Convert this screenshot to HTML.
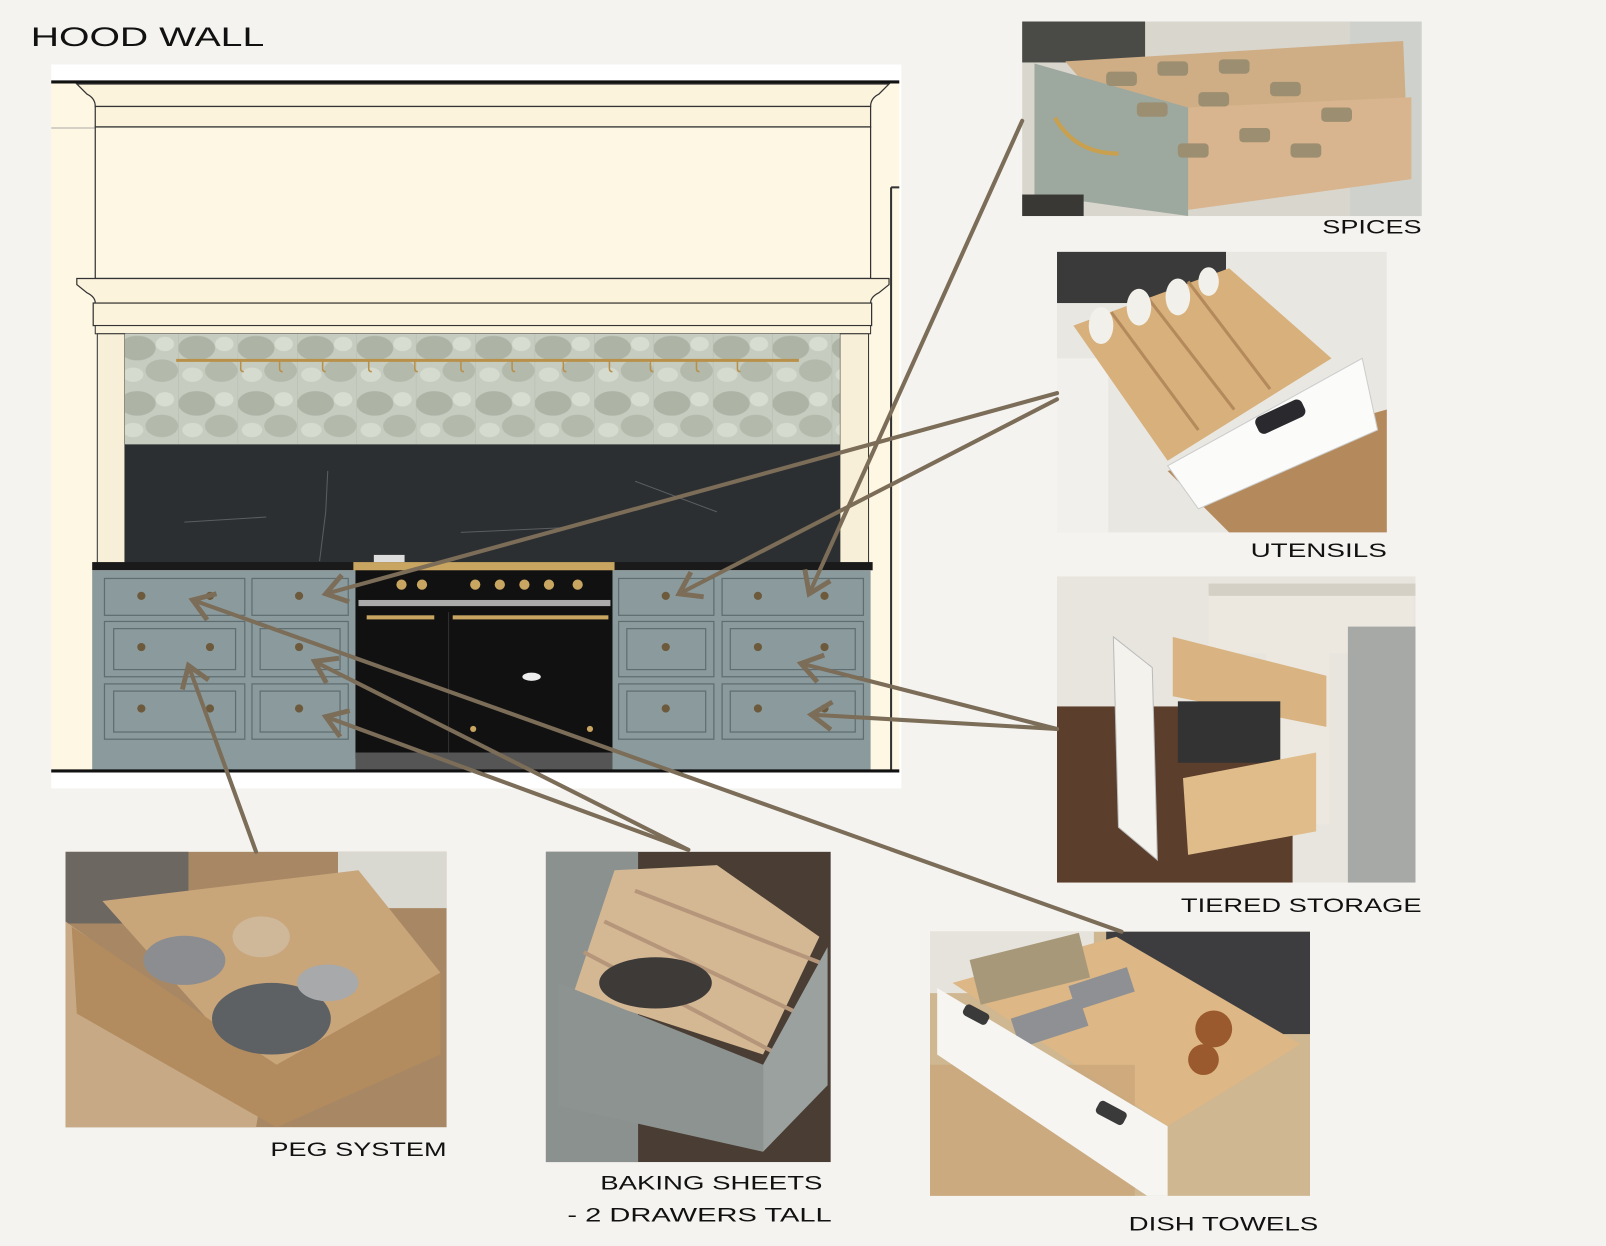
<!DOCTYPE html>
<html><head><meta charset="utf-8"><style>
html,body{margin:0;padding:0;background:#f4f3ef;}
svg{display:block}
text{font-family:"Liberation Sans",sans-serif;fill:#111}
</style></head><body>
<svg width="1606" height="1246" viewBox="0 0 1568 1217" preserveAspectRatio="none" xmlns="http://www.w3.org/2000/svg">
<defs>
<marker id="ah" markerWidth="8" markerHeight="8" refX="6" refY="4" orient="auto" markerUnits="strokeWidth">
<polyline points="1,0.6 6,4 1,7.4" fill="none" stroke="#7b6d58" stroke-width="1.2"/>
</marker>
<pattern id="tile" width="58" height="54" patternUnits="userSpaceOnUse">
<rect width="58" height="54" fill="#c6ccc0"/>
<ellipse cx="18" cy="16" rx="18" ry="12" fill="#adb4a6"/>
<ellipse cx="42" cy="38" rx="16" ry="11" fill="#b3baac"/>
<ellipse cx="45" cy="12" rx="9" ry="7" fill="#d8ddd2"/>
<ellipse cx="14" cy="42" rx="10" ry="7" fill="#d6dbd0"/>
<line x1="0" y1="0" x2="0" y2="54" stroke="#b5bcae" stroke-width="1"/>
</pattern>
</defs>
<rect width="1568" height="1217" fill="#f4f3ef"/>
<text x="30" y="45" font-size="26" textLength="228" lengthAdjust="spacingAndGlyphs">HOOD WALL</text>

<!-- drawing -->
<rect x="50" y="63" width="830" height="707" fill="#ffffff"/>
<rect x="50" y="80" width="828" height="672" fill="#fdf7e3"/>
<line x1="50" y1="80" x2="878" y2="80" stroke="#111" stroke-width="3"/>
<path d="M75 82 H868 L858 92 Q850 96 850 104 H93 Q93 96 85 92 Z" fill="#fbf3dc" stroke="#333" stroke-width="1.2"/>
<rect x="93" y="104" width="757" height="20" fill="#fbf3dc" stroke="#333" stroke-width="1.2"/>
<line x1="50" y1="125" x2="93" y2="125" stroke="#aaa"/>
<rect x="93" y="124" width="757" height="148" fill="#fdf7e3" stroke="#333" stroke-width="1.2"/>
<line x1="870" y1="183" x2="870" y2="752" stroke="#333" stroke-width="2"/>
<line x1="870" y1="183" x2="878" y2="183" stroke="#333" stroke-width="2"/>
<path d="M75 272 H868 V278 L858 286 Q850 290 850 296 H93 Q93 290 85 286 L75 278 Z" fill="#fbf3dc" stroke="#333" stroke-width="1.2"/>
<rect x="91" y="296" width="760" height="22" fill="#fbf3dc" stroke="#333" stroke-width="1.2"/>
<rect x="93" y="318" width="757" height="8" fill="#fbf3dc" stroke="#333" stroke-width="1"/>
<rect x="95" y="326" width="27" height="224" fill="#f7efd8" stroke="#333" stroke-width="1"/>
<rect x="820" y="326" width="28" height="224" fill="#f7efd8" stroke="#333" stroke-width="1"/>
<rect x="122" y="326" width="698" height="108" fill="url(#tile)"/>
<rect x="122" y="434" width="698" height="116" fill="#2c2f31"/>
<path d="M320 460 L318 500 L312 548 M180 510 L260 505 M620 470 L700 500 M450 520 L560 515" stroke="#5a5e60" stroke-width="1" fill="none"/>
<line x1="172" y1="352" x2="780" y2="352" stroke="#b8904a" stroke-width="3"/>
<g fill="none" stroke="#b8904a" stroke-width="1.5">
<path d="M235 352 v8 q0 3 3 3"/><path d="M273 352 v8 q0 3 3 3"/><path d="M315 352 v8 q0 3 3 3"/><path d="M360 352 v8 q0 3 3 3"/><path d="M405 352 v8 q0 3 3 3"/><path d="M450 352 v8 q0 3 3 3"/><path d="M500 352 v8 q0 3 3 3"/><path d="M550 352 v8 q0 3 3 3"/><path d="M595 352 v8 q0 3 3 3"/><path d="M635 352 v8 q0 3 3 3"/><path d="M680 352 v8 q0 3 3 3"/><path d="M720 352 v8 q0 3 3 3"/>
</g>
<rect x="90" y="549" width="762" height="8" fill="#1a1a1a"/>
<!-- cabinets -->
<rect x="90" y="557" width="257" height="195" fill="#8b9b9d"/>
<rect x="598" y="557" width="252" height="195" fill="#8b9b9d"/>
<g fill="none" stroke="#5f6d70" stroke-width="1.2">
<rect x="102" y="565" width="137" height="36"/><rect x="246" y="565" width="94" height="36"/>
<rect x="102" y="607" width="137" height="54"/><rect x="111" y="614" width="119" height="40"/>
<rect x="246" y="607" width="94" height="54"/><rect x="254" y="614" width="78" height="40"/>
<rect x="102" y="668" width="137" height="54"/><rect x="111" y="675" width="119" height="40"/>
<rect x="246" y="668" width="94" height="54"/><rect x="254" y="675" width="78" height="40"/>
<rect x="604" y="565" width="93" height="36"/><rect x="705" y="565" width="138" height="36"/>
<rect x="604" y="607" width="93" height="54"/><rect x="612" y="614" width="77" height="40"/>
<rect x="705" y="607" width="138" height="54"/><rect x="713" y="614" width="122" height="40"/>
<rect x="604" y="668" width="93" height="54"/><rect x="612" y="675" width="77" height="40"/>
<rect x="705" y="668" width="138" height="54"/><rect x="713" y="675" width="122" height="40"/>
</g>
<g fill="#6d5a3c">
<circle cx="138" cy="582" r="4"/><circle cx="205" cy="582" r="4"/><circle cx="292" cy="582" r="4"/>
<circle cx="138" cy="632" r="4"/><circle cx="205" cy="632" r="4"/><circle cx="292" cy="632" r="4"/>
<circle cx="138" cy="692" r="4"/><circle cx="205" cy="692" r="4"/><circle cx="292" cy="692" r="4"/>
<circle cx="650" cy="582" r="4"/><circle cx="740" cy="582" r="4"/><circle cx="805" cy="582" r="4"/>
<circle cx="650" cy="632" r="4"/><circle cx="740" cy="632" r="4"/><circle cx="805" cy="632" r="4"/>
<circle cx="650" cy="692" r="4"/><circle cx="740" cy="692" r="4"/><circle cx="805" cy="692" r="4"/>
</g>
<!-- range -->
<rect x="347" y="551" width="251" height="190" fill="#111"/>
<rect x="345" y="549" width="255" height="8" fill="#c8a560"/>
<rect x="365" y="542" width="30" height="7" fill="#ddd"/>
<rect x="350" y="586" width="246" height="6" fill="#aaa"/>
<g fill="#c8a560"><circle cx="392" cy="571" r="5"/><circle cx="412" cy="571" r="5"/><circle cx="464" cy="571" r="5"/><circle cx="488" cy="571" r="5"/><circle cx="512" cy="571" r="5"/><circle cx="536" cy="571" r="5"/><circle cx="564" cy="571" r="5"/></g>
<rect x="358" y="601" width="66" height="4" fill="#c8a560"/><rect x="442" y="601" width="152" height="4" fill="#c8a560"/>
<line x1="438" y1="598" x2="438" y2="735" stroke="#333"/>
<ellipse cx="519" cy="661" rx="9" ry="4" fill="#eee"/>
<circle cx="462" cy="712" r="3" fill="#c8a560"/><circle cx="576" cy="712" r="3" fill="#c8a560"/>
<rect x="347" y="735" width="251" height="17" fill="#555"/>
<line x1="50" y1="753" x2="878" y2="753" stroke="#111" stroke-width="3"/>

<!-- SPICES photo -->
<rect x="998" y="21" width="390" height="190" fill="#d9d6cd"/>
<rect x="998" y="21" width="120" height="40" fill="#4a4a46"/>
<rect x="1318" y="21" width="70" height="190" fill="#cfd2cc"/>
<polygon points="1040,60 1370,40 1375,160 1160,200" fill="#cfae86"/>
<polygon points="1160,105 1378,95 1378,175 1160,205" fill="#d8b58e"/>
<polygon points="1010,62 1160,105 1160,211 1010,190" fill="#9da89f"/>
<path d="M1030 115 Q1050 150 1092 150" stroke="#c8a04e" stroke-width="4" fill="none"/>
<g fill="#9c8e70"><rect x="1080" y="70" width="30" height="14" rx="4"/><rect x="1130" y="60" width="30" height="14" rx="4"/><rect x="1190" y="58" width="30" height="14" rx="4"/><rect x="1110" y="100" width="30" height="14" rx="4"/><rect x="1170" y="90" width="30" height="14" rx="4"/><rect x="1240" y="80" width="30" height="14" rx="4"/><rect x="1290" y="105" width="30" height="14" rx="4"/><rect x="1210" y="125" width="30" height="14" rx="4"/><rect x="1150" y="140" width="30" height="14" rx="4"/><rect x="1260" y="140" width="30" height="14" rx="4"/></g>
<rect x="998" y="190" width="60" height="21" fill="#3a3835"/>
<text x="1291" y="228" font-size="19" textLength="97" lengthAdjust="spacingAndGlyphs">SPICES</text>

<!-- UTENSILS -->
<rect x="1032" y="246" width="322" height="274" fill="#e9e7e2"/>
<rect x="1032" y="246" width="165" height="50" fill="#3a3a3a"/>
<polygon points="1140,460 1354,400 1354,520 1200,520" fill="#b48a5c"/>
<rect x="1032" y="350" width="50" height="170" fill="#f1f0ec"/>
<polygon points="1048,318 1200,262 1300,350 1140,450" fill="#d7b07c"/>
<g stroke="#b48a5c" stroke-width="3"><line x1="1085" y1="305" x2="1170" y2="420"/><line x1="1120" y1="290" x2="1205" y2="400"/><line x1="1160" y1="275" x2="1240" y2="380"/></g>
<g fill="#f2f0ea"><ellipse cx="1075" cy="318" rx="12" ry="18"/><ellipse cx="1112" cy="300" rx="12" ry="18"/><ellipse cx="1150" cy="290" rx="12" ry="18"/><ellipse cx="1180" cy="275" rx="10" ry="14"/></g>
<polygon points="1140,455 1330,350 1345,420 1170,497" fill="#fbfbfa" stroke="#ccc"/>
<rect x="1225" y="398" width="50" height="18" rx="6" fill="#2a2a2e" transform="rotate(-25 1250 407)"/>
<text x="1221" y="544" font-size="19" textLength="133" lengthAdjust="spacingAndGlyphs">UTENSILS</text>

<!-- TIERED -->
<rect x="1032" y="563" width="350" height="299" fill="#e8e5de"/>
<rect x="1032" y="690" width="230" height="172" fill="#5b3e2c"/>
<rect x="1180" y="578" width="200" height="60" fill="#ece8df"/>
<rect x="1180" y="570" width="202" height="12" fill="#d4d0c6"/>
<rect x="1316" y="612" width="66" height="250" fill="#a7a9a7"/>
<rect x="1236" y="617" width="62" height="188" fill="#ece8df"/>
<polygon points="1145,622 1295,660 1295,710 1145,680" fill="#d9b482"/>
<rect x="1150" y="685" width="100" height="60" fill="#333"/>
<polygon points="1155,760 1285,735 1285,812 1160,835" fill="#dfbc8a"/>
<polygon points="1087,622 1125,652 1130,840 1092,808" fill="#f4f2ed" stroke="#bbb"/>
<text x="1153" y="891" font-size="19" textLength="235" lengthAdjust="spacingAndGlyphs">TIERED STORAGE</text>

<!-- PEG -->
<rect x="64" y="832" width="372" height="269" fill="#a88864"/>
<rect x="64" y="832" width="120" height="70" fill="#6d6762"/>
<rect x="330" y="832" width="106" height="55" fill="#d9d8d1"/>
<polygon points="100,880 350,850 430,950 260,1060" fill="#c9a57a"/>
<polygon points="64,900 260,1040 250,1101 64,1101" fill="#c7aa85"/>
<polygon points="70,905 270,1040 430,950 430,1030 270,1101 75,990" fill="#b28b5f"/>
<ellipse cx="180" cy="938" rx="40" ry="24" fill="#8b8d90"/>
<ellipse cx="265" cy="995" rx="58" ry="35" fill="#5e6164"/>
<ellipse cx="255" cy="915" rx="28" ry="20" fill="#cfb79a"/>
<ellipse cx="320" cy="960" rx="30" ry="18" fill="#a8a9aa"/>
<text x="264" y="1129" font-size="19" textLength="172" lengthAdjust="spacingAndGlyphs">PEG SYSTEM</text>

<!-- BAKING -->
<rect x="533" y="832" width="278" height="303" fill="#4a3d33"/>
<rect x="533" y="832" width="90" height="303" fill="#8b918f"/>
<polygon points="600,850 700,845 800,915 745,1030 560,970" fill="#d4b894"/>
<g stroke="#b5967a" stroke-width="4"><line x1="590" y1="900" x2="780" y2="990"/><line x1="570" y1="930" x2="760" y2="1030"/><line x1="620" y1="870" x2="800" y2="940"/></g>
<ellipse cx="640" cy="960" rx="55" ry="25" fill="#3d3a38"/>
<polygon points="545,960 745,1040 745,1125 545,1080" fill="#8c9391"/>
<polygon points="745,1040 808,925 808,1060 745,1125" fill="#9aa19f"/>
<text x="586" y="1162" font-size="19" textLength="217" lengthAdjust="spacingAndGlyphs">BAKING SHEETS</text>
<text x="554" y="1193" font-size="19" textLength="258" lengthAdjust="spacingAndGlyphs">- 2 DRAWERS TALL</text>

<!-- DISH TOWELS -->
<rect x="908" y="910" width="371" height="258" fill="#cfb791"/>
<rect x="908" y="910" width="160" height="60" fill="#e6e3dc"/>
<rect x="1080" y="910" width="199" height="100" fill="#3d3d3f"/>
<polygon points="930,960 1090,915 1270,1020 1140,1100" fill="#ddb785"/>
<rect x="950" y="925" width="110" height="45" fill="#a7987a" transform="rotate(-14 1000 945)"/>
<rect x="990" y="985" width="70" height="30" fill="#8e9094" transform="rotate(-18 1020 1000)"/>
<rect x="1045" y="955" width="60" height="25" fill="#8e9094" transform="rotate(-18 1070 965)"/>
<circle cx="1185" cy="1005" r="18" fill="#9a5a2e"/><circle cx="1175" cy="1035" r="15" fill="#9a5a2e"/>
<rect x="908" y="1040" width="200" height="128" fill="#c9a478" opacity="0.7"/>
<polygon points="915,965 1140,1100 1140,1168 1120,1168 915,1030" fill="#f6f5f2"/>
<rect x="1070" y="1080" width="30" height="14" rx="4" fill="#3a3a3a" transform="rotate(28 1085 1087)"/>
<rect x="940" y="985" width="26" height="12" rx="4" fill="#3a3a3a" transform="rotate(28 953 991)"/>
<text x="1102" y="1202" font-size="19" textLength="185" lengthAdjust="spacingAndGlyphs">DISH TOWELS</text>

<!-- arrows -->
<g stroke="#7b6d58" stroke-width="4" fill="none" marker-end="url(#ah)" stroke-linecap="round">
<line x1="998" y1="118" x2="790" y2="580"/>
<line x1="1032" y1="384" x2="318" y2="580"/>
<line x1="1032" y1="390" x2="663" y2="580"/>
<line x1="1032" y1="712" x2="782" y2="648"/>
<line x1="1032" y1="712" x2="792" y2="698"/>
<line x1="250" y1="832" x2="184" y2="650"/>
<line x1="672" y1="830" x2="307" y2="646"/>
<line x1="672" y1="830" x2="318" y2="700"/>
<line x1="1095" y1="910" x2="188" y2="586"/>
</g>
</svg>
</body></html>
